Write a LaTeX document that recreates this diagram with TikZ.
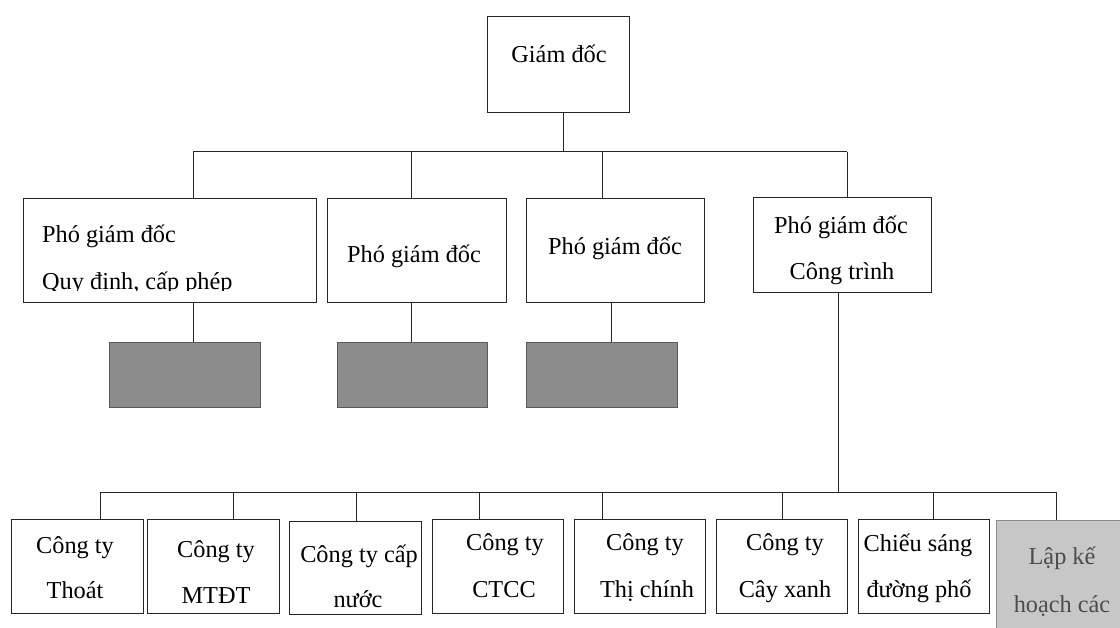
\documentclass[tikz,border=0pt]{standalone}
\usepackage{fontspec}
\setmainfont{Liberation Serif}
\begin{document}
\begin{tikzpicture}[x=1pt,y=-1pt,
  box/.style={draw=black!85, line width=1pt, fill=white, inner sep=0pt},
  darkbox/.style={draw=black!65, line width=0.8pt, fill=black!45, inner sep=0pt},
  lightbox/.style={draw=black!45, line width=0.8pt, fill=black!22, inner sep=0pt},
  txt/.style={inner sep=0pt, anchor=base, font=\fontsize{24.3}{29}\selectfont},
  conn/.style={draw=black!85, line width=1pt}]
\useasboundingbox (0,0) rectangle (1120,628);
\clip (0,0) rectangle (1120,628);
\fill[white] (0,0) rectangle (1120,628);

% boxes
\node[box, minimum width=142, minimum height=96] (top) at (558,65) {};
\node[box, minimum width=293, minimum height=104] (vp1) at (169.5,251) {};
\node[box, minimum width=179, minimum height=104] (vp2) at (416.5,251) {};
\node[box, minimum width=178, minimum height=104] (vp3) at (615,251) {};
\node[box, minimum width=178, minimum height=95] (vp4) at (842,245.5) {};
\node[darkbox, minimum width=151, minimum height=65] (g1) at (184.5,374.5) {};
\node[darkbox, minimum width=150, minimum height=65] (g2) at (412,374.5) {};
\node[darkbox, minimum width=151, minimum height=65] (g3) at (601.5,374.5) {};
\node[box, minimum width=132, minimum height=94] (b1) at (77,566) {};
\node[box, minimum width=132, minimum height=94] (b2) at (213,566) {};
\node[box, minimum width=132, minimum height=93] (b3) at (355,567.5) {};
\node[box, minimum width=131, minimum height=94] (b4) at (497.5,566) {};
\node[box, minimum width=131, minimum height=94] (b5) at (639.5,566) {};
\node[box, minimum width=131, minimum height=94] (b6) at (781.5,566) {};
\node[box, minimum width=131, minimum height=94] (b7) at (923.5,566) {};
\node[lightbox, minimum width=140, minimum height=120] (b8) at (1066,580) {};

% texts
\node[txt] (tTop) at (559,63) {Giám đốc};
\node[txt, anchor=base west] (tVp1a) at (42,243) {Phó giám đốc};
\begin{scope}
  \clip (vp1.north west) rectangle (316,290.8);
  \node[txt, anchor=base west] (tVp1b) at (42,290) {Quy định, cấp phép};
\end{scope}
\node[txt, anchor=base west] (tVp2) at (347,263) {Phó giám đốc};
\node[txt] (tVp3) at (615,255) {Phó giám đốc};
\node[txt] (tVp4a) at (841,234) {Phó giám đốc};
\node[txt] (tVp4b) at (842,280) {Công trình};
\node[txt] (tB1a) at (75,553) {Công ty};
\node[txt] (tB1b) at (75,598) {Thoát};
\node[txt] (tB2a) at (216,557) {Công ty};
\node[txt] (tB2b) at (216,603) {MTĐT};
\node[txt] (tB3a) at (359,562) {Công ty cấp};
\node[txt] (tB3b) at (358,607) {nước};
\node[txt] (tB4a) at (505,550) {Công ty};
\node[txt] (tB4b) at (504,597) {CTCC};
\node[txt] (tB5a) at (645,550) {Công ty};
\node[txt] (tB5b) at (647,597) {Thị chính};
\node[txt] (tB6a) at (785,550) {Công ty};
\node[txt] (tB6b) at (785,597) {Cây xanh};
\node[txt] (tB7a) at (918,551) {Chiếu sáng};
\node[txt] (tB7b) at (919,597) {đường phố};
\node[txt, text=black!70] (tB8a) at (1062,564) {Lập kế};
\node[txt, text=black!70] (tB8b) at (1062,612) {hoạch các};

% upper connectors
\coordinate (busA) at (563,152);
\coordinate (busL) at (193,152);
\coordinate (busR) at (847,152);
\coordinate (d2) at (411,152);
\coordinate (d3) at (602,152);
\coordinate (s3) at (611,152);
\draw[conn] (top.south -| busA) -- (busA);
\draw[conn] (busL) -- (busR);
\draw[conn] (busL) -- (busL |- vp1.north);
\draw[conn] (d2) -- (d2 |- vp2.north);
\draw[conn] (d3) -- (d3 |- vp3.north);
\draw[conn] (busR) -- (busR |- vp4.north);
\draw[conn] (vp1.south -| busL) -- (g1.north -| busL);
\draw[conn] (vp2.south -| d2) -- (g2.north -| d2);
\draw[conn] (vp3.south -| s3) -- (g3.north -| s3);

% lower connectors
\coordinate (busB) at (838,492);
\coordinate (k1) at (100,492);
\coordinate (k2) at (233,492);
\coordinate (k3) at (356,492);
\coordinate (k4) at (479,492);
\coordinate (k5) at (602,492);
\coordinate (k6) at (782,492);
\coordinate (k7) at (933,492);
\coordinate (k8) at (1056,492);
\draw[conn] (vp4.south -| busB) -- (busB);
\draw[conn] (k1) -- (k8);
\draw[conn] (k1) -- (k1 |- b1.north);
\draw[conn] (k2) -- (k2 |- b2.north);
\draw[conn] (k3) -- (k3 |- b3.north);
\draw[conn] (k4) -- (k4 |- b4.north);
\draw[conn] (k5) -- (k5 |- b5.north);
\draw[conn] (k6) -- (k6 |- b6.north);
\draw[conn] (k7) -- (k7 |- b7.north);
\draw[conn] (k8) -- (k8 |- b8.north);
\end{tikzpicture}
\end{document}
